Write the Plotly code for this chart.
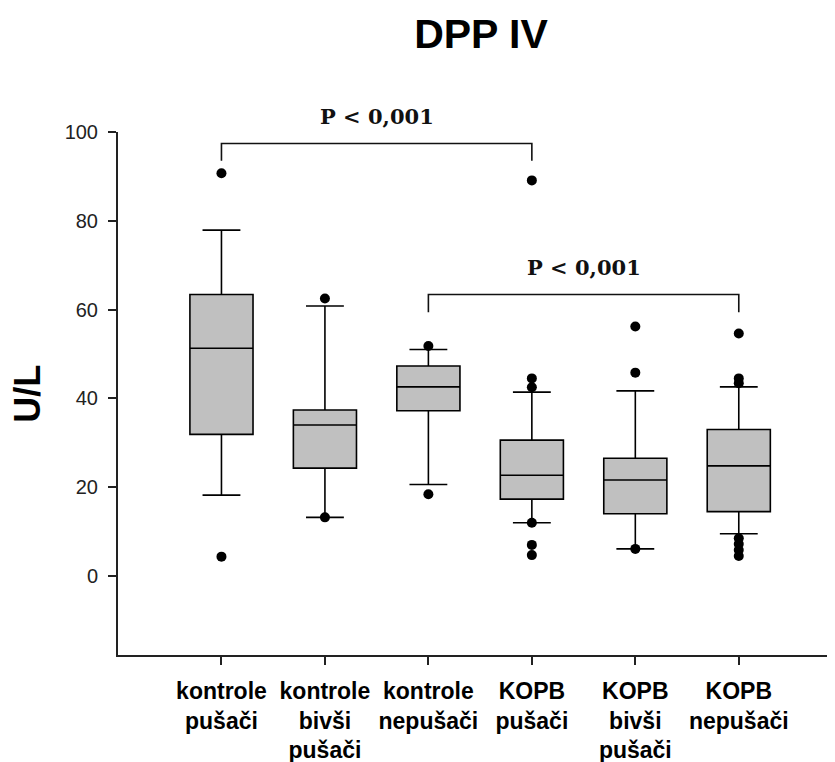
import plotly.graph_objects as go

# ---- data ----
categories = ["kontrole<br>pušači", "kontrole<br>bivši<br>pušači", "kontrole<br>nepušači",
              "KOPB<br>pušači", "KOPB<br>bivši<br>pušači", "KOPB<br>nepušači"]
positions = [0, 1, 2, 3, 4, 5]
q1 = [31.9, 24.3, 37.2, 17.3, 14.0, 14.5]
median = [51.3, 34.0, 42.6, 22.7, 21.6, 24.8]
q3 = [63.4, 37.4, 47.3, 30.6, 26.5, 33.0]
lower_whisker = [18.2, 13.2, 20.6, 12.0, 6.1, 9.5]
upper_whisker = [77.9, 60.8, 51.0, 41.4, 41.7, 42.6]

outliers = {
    0: [90.7, 4.35],
    1: [62.5, 13.2],
    2: [51.8, 18.4],
    3: [89.1, 44.5, 42.5, 12.0, 7.0, 4.7],
    4: [56.2, 45.8, 6.1],
    5: [54.6, 44.5, 43.4, 8.5, 7.2, 5.85, 4.5],
}

# significance comparisons: (from index, to index, bracket top, bracket foot, label)
comparisons = [
    (0, 3, 97.4, 93.5, "P < 0,001"),
    (2, 5, 63.4, 59.4, "P < 0,001"),
]

y_ticks = [0, 20, 40, 60, 80, 100]
y_range = [-17.8, 100]

# ---- figure ----
fig = go.Figure()

fig.add_trace(go.Box(
    x=positions, q1=q1, median=median, q3=q3,
    lowerfence=lower_whisker, upperfence=upper_whisker,
    boxpoints=False, width=0.61, whiskerwidth=0.6,
    fillcolor="#c0c0c0", line=dict(color="#000000", width=1.6),
    showlegend=False, hoverinfo="skip",
))

ox, oy = [], []
for k, vals in outliers.items():
    for v in vals:
        ox.append(k)
        oy.append(v)
fig.add_trace(go.Scatter(
    x=ox, y=oy, mode="markers",
    marker=dict(color="#000000", size=10, symbol="circle"),
    showlegend=False, cliponaxis=False,
))

span = y_range[1] - y_range[0]
for a, b, top, foot, label in comparisons:
    fig.add_shape(type="path", xref="x", yref="y",
                  path=f"M {a},{foot} L {a},{top} L {b},{top} L {b},{foot}",
                  line=dict(color="#111111", width=1.6))
    fig.add_annotation(x=(a + b) / 2, y=(top + 6 - y_range[0]) / span,
                       xref="x", yref="paper", yanchor="middle",
                       text=label, showarrow=False,
                       font=dict(family="DejaVu Serif", size=21, color="#111111", weight="bold"))

W, H = 827, 754  # page body has an 8px margin
L, T, R, B = 110, 123.5, 0, 107
plot_w = W - L - R
plot_h = H - T - B

fig.add_annotation(text="U/L", textangle=-90, xref="paper", yref="paper",
                   x=(20 - L) / plot_w, y=(H - B - 385.5) / plot_h,
                   xanchor="center", yanchor="middle", showarrow=False,
                   font=dict(family="Liberation Sans, Arial", size=36, color="#000000", weight="bold"))

fig.update_layout(
    width=W, height=H,
    margin=dict(l=L, r=R, t=T, b=B),
    paper_bgcolor="white", plot_bgcolor="white",
    title=dict(text="DPP IV", xref="container", yref="container",
               x=473 / W, y=1 - 26 / H, xanchor="center", yanchor="middle",
               font=dict(family="Liberation Sans, Arial", size=41, color="#000000", weight="bold")),
    xaxis=dict(range=[-1, 5.93], tickvals=positions, ticktext=categories,
               showline=True, linecolor="#222222", linewidth=2,
               ticks="outside", ticklen=8, tickwidth=1.5, tickcolor="#222222",
               ticklabelstandoff=6,
               showgrid=False, zeroline=False,
               tickfont=dict(family="Liberation Sans, Arial", size=23, color="#000000", weight="bold")),
    yaxis=dict(range=y_range, tickvals=y_ticks,
               showline=True, linecolor="#222222", linewidth=2,
               ticks="outside", ticklen=8, tickwidth=1.5, tickcolor="#222222",
               ticklabelstandoff=6,
               showgrid=False, zeroline=False,
               tickfont=dict(family="Liberation Sans, Arial", size=20, color="#222222")),
)

fig.write_html("out.html")
